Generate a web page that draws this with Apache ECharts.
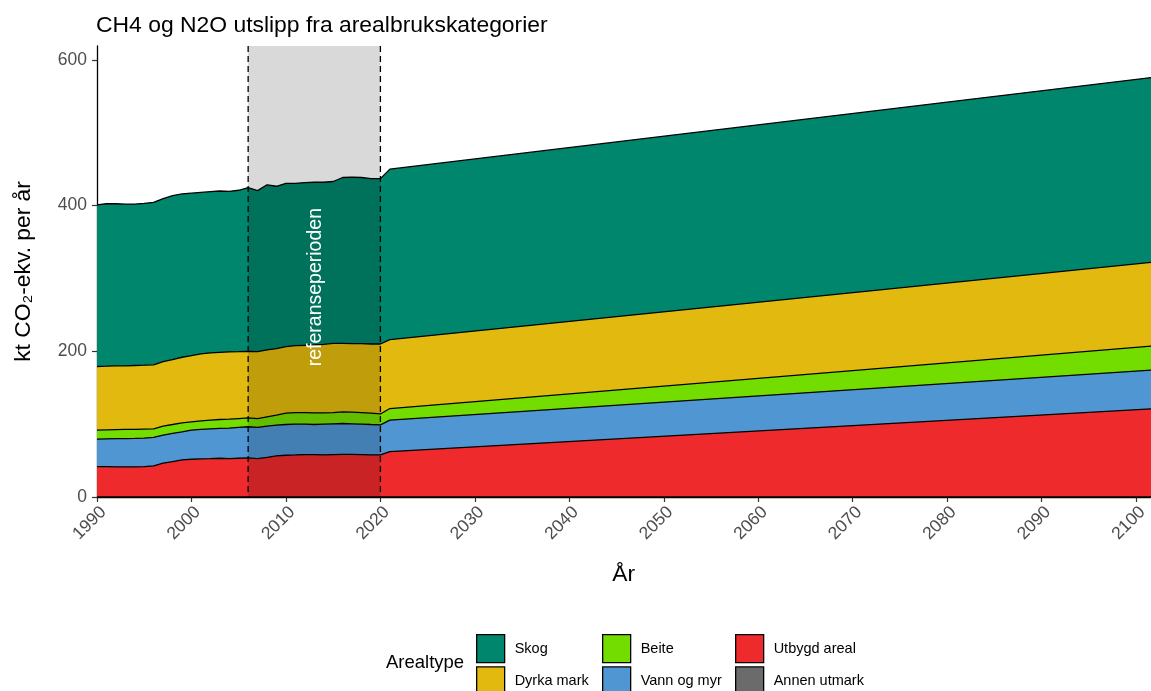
<!DOCTYPE html>
<html>
<head>
<meta charset="utf-8">
<title>CH4 og N2O utslipp fra arealbrukskategorier</title>
<script src="https://cdn.jsdelivr.net/npm/echarts@6/dist/echarts.min.js"></script>
<style>
  html, body { margin: 0; padding: 0; background: #ffffff; }
  #chart { width: 1151px; height: 691px; }
</style>
</head>
<body>
<div id="chart"></div>
<script>
// Years: annual inventory 1990-2021, then the projection end point
const years = [
  1990, 1991, 1992, 1993, 1994, 1995, 1996, 1997, 1998, 1999,
  2000, 2001, 2002, 2003, 2004, 2005, 2006, 2007, 2008, 2009,
  2010, 2011, 2012, 2013, 2014, 2015, 2016, 2017, 2018, 2019,
  2020, 2021, 2102
];

// Emissions per land-use category, kt CO2-ekv. per år
const annenUtmark = [
  0, 0, 0, 0, 0, 0, 0, 0, 0, 0,
  0, 0, 0, 0, 0, 0, 0, 0, 0, 0,
  0, 0, 0, 0, 0, 0, 0, 0, 0, 0,
  0, 0, 0
];
const utbygdAreal = [
  41.8, 41.8, 41.4, 41.4, 41.4, 41.8, 42.7, 46.4, 48.6, 50.9,
  51.8, 52.3, 52.7, 53.2, 52.7, 53.2, 53.6, 52.7, 54.5, 56.4,
  57.3, 57.7, 58.2, 58.2, 57.7, 58.2, 58.6, 58.6, 58.2, 57.7,
  57.7, 62.3, 121.4
];
const vannOgMyr = [
  37.7, 38.0, 38.6, 38.8, 39.1, 39.1, 39.1, 38.6, 38.7, 38.6,
  40.0, 40.4, 40.9, 40.9, 41.8, 42.3, 42.8, 42.8, 42.8, 42.2,
  42.2, 42.3, 41.8, 41.3, 42.3, 42.3, 42.3, 41.9, 41.8, 41.8,
  41.4, 43.2, 53.0
];
const beite = [
  12.3, 12.3, 12.4, 12.5, 12.2, 12.3, 11.8, 12.3, 12.2, 12.3,
  11.4, 11.8, 11.9, 12.3, 12.3, 12.2, 12.2, 12.2, 12.7, 13.7,
  15.5, 15.9, 15.9, 16.0, 15.5, 15.4, 15.9, 15.9, 15.9, 15.5,
  14.9, 15.9, 33.1
];
const dyrkaMark = [
  87.3, 87.4, 87.6, 87.3, 87.8, 87.7, 87.8, 88.6, 89.1, 90.0,
  90.9, 91.9, 92.2, 92.2, 92.3, 91.8, 91.4, 91.8, 91.8, 91.3,
  91.4, 91.8, 92.3, 93.1, 94.0, 95.0, 94.1, 94.1, 94.6, 95.0,
  96.0, 94.5, 115.2
];
const skog = [
  221.9, 223.0, 222.5, 222.0, 221.5, 222.1, 223.1, 223.6, 224.9, 224.2,
  222.9, 221.6, 221.3, 221.4, 220.4, 221.5, 224.5, 221.0, 226.7, 222.9,
  224.1, 222.8, 223.3, 223.4, 222.5, 222.1, 227.6, 228.5, 228.0, 227.0,
  227.0, 234.1, 253.6
];

// Axis ticks and the reference period
const xTicks = [1990, 2000, 2010, 2020, 2030, 2040, 2050, 2060, 2070, 2080, 2090, 2100];
const yTicks = [0, 200, 400, 600];
const referencePeriod = [2006, 2020];

const FONT = '"Liberation Sans", Arial, Helvetica, sans-serif';
const REF_LABEL_LEVEL = 288; // height (in axis units) of the vertical period label

// Stack order: first entry at the bottom
const layers = [
  { name: 'Annen utmark', values: annenUtmark, color: '#6B6B6B' },
  { name: 'Utbygd areal', values: utbygdAreal, color: '#EE2A2C' },
  { name: 'Vann og myr',  values: vannOgMyr,   color: '#4F96D2' },
  { name: 'Beite',        values: beite,       color: '#74DD00' },
  { name: 'Dyrka mark',   values: dyrkaMark,   color: '#E2B90E' },
  { name: 'Skog',         values: skog,        color: '#00866D' }
];
const colorOf = Object.fromEntries(layers.map(l => [l.name, l.color]));

// Running totals: each layer is drawn as an opaque area from 0 up to its
// cumulative top, tallest first, so the visible bands form the stack.
let running = years.map(() => 0);
const stacked = layers.map(l => {
  running = running.map((v, i) => v + l.values[i]);
  return { name: l.name, color: l.color, tops: running.slice() };
});

const areaSeries = stacked.slice().reverse().map(l => ({
  type: 'line',
  name: l.name,
  data: years.map((y, i) => [y, l.tops[i]]),
  symbol: 'none',
  color: l.color,
  lineStyle: { color: '#000000', width: 1.3 },
  areaStyle: { color: l.color, opacity: 1, origin: 'start' },
  emphasis: { disabled: true },
  z: 2
}));

// Shaded reference period with dashed borders and a vertical label
const periodSeries = {
  type: 'custom',
  name: 'referanseperioden',
  data: [referencePeriod],
  encode: { x: [0, 1] },
  silent: true,
  z: 5,
  renderItem: function (params, api) {
    const cs = params.coordSys;
    const x0 = api.coord([api.value(0), 0])[0];
    const x1 = api.coord([api.value(1), 0])[0];
    const top = cs.y;
    const bottom = cs.y + cs.height;
    const mid = api.coord([(api.value(0) + api.value(1)) / 2, REF_LABEL_LEVEL]);
    const dashed = { stroke: '#000000', lineWidth: 1.3, lineDash: [6, 4] };
    return {
      type: 'group',
      children: [
        { type: 'rect', shape: { x: x0, y: top, width: x1 - x0, height: cs.height },
          style: { fill: 'rgba(0,0,0,0.15)' } },
        { type: 'line', shape: { x1: x0, y1: top, x2: x0, y2: bottom }, style: dashed },
        { type: 'line', shape: { x1: x1, y1: top, x2: x1, y2: bottom }, style: dashed },
        { type: 'text', x: mid[0] + 1.5, y: mid[1], rotation: Math.PI / 2,
          style: { text: 'referanseperioden', fill: '#ffffff', fontSize: 19.5,
                   fontFamily: FONT, align: 'center', verticalAlign: 'middle' } }
      ]
    };
  }
};

function legendBlock(names, left) {
  return {
    orient: 'vertical',
    left: left,
    top: 634,
    height: 200,
    padding: 0,
    itemWidth: 28,
    itemHeight: 28,
    itemGap: 3,
    icon: 'rect',
    selectedMode: false,
    textStyle: { fontFamily: FONT, fontSize: 14.5, color: '#000000', padding: [0, 0, 0, 5] },
    data: names.map(n => ({
      name: n,
      icon: 'rect',
      itemStyle: { color: colorOf[n], borderColor: '#000000', borderWidth: 1.3 }
    }))
  };
}

const chart = echarts.init(document.getElementById('chart'), null, { renderer: 'canvas' });
chart.setOption({
  animation: false,
  backgroundColor: '#ffffff',
  textStyle: { fontFamily: FONT },
  title: [
    { text: 'CH4 og N2O utslipp fra arealbrukskategorier', left: 96, top: 14, padding: 0,
      textStyle: { fontFamily: FONT, fontSize: 22.9, fontWeight: 'normal', color: '#000000' } },
    { text: 'Arealtype', left: 386, top: 653, padding: 0,
      textStyle: { fontFamily: FONT, fontSize: 18.5, fontWeight: 'normal', color: '#000000' } }
  ],
  legend: [
    legendBlock(['Skog', 'Dyrka mark'], 476),
    legendBlock(['Beite', 'Vann og myr'], 602),
    legendBlock(['Utbygd areal', 'Annen utmark'], 735)
  ],
  grid: { left: 97, right: 0, top: 46, bottom: 194, containLabel: false },
  xAxis: {
    type: 'value',
    min: 1990,
    max: 2101.5,
    interval: 10,
    name: 'År',
    nameLocation: 'middle',
    nameGap: 66,
    nameTextStyle: { fontFamily: FONT, fontSize: 22.8, color: '#000000' },
    axisLine: { show: true, onZero: false, lineStyle: { color: '#000000', width: 1.3 } },
    axisTick: { show: true, length: 5, customValues: xTicks, lineStyle: { color: '#333333', width: 1.2 } },
    axisLabel: {
      customValues: xTicks,
      rotate: 45,
      margin: 6,
      align: 'right',
      verticalAlign: 'top',
      fontFamily: FONT,
      fontSize: 17.5,
      color: '#4D4D4D',
      formatter: v => (xTicks.indexOf(v) >= 0 ? String(v) : '')
    },
    splitLine: { show: false }
  },
  yAxis: {
    type: 'value',
    min: 0,
    max: 619,
    interval: 200,
    name: 'kt CO₂-ekv. per år',
    nameLocation: 'middle',
    nameGap: 62,
    nameTextStyle: { fontFamily: FONT, fontSize: 22.8, color: '#000000' },
    axisLine: { show: true, lineStyle: { color: '#000000', width: 1.3 } },
    axisTick: { show: true, length: 5, customValues: yTicks, lineStyle: { color: '#333333', width: 1.2 } },
    axisLabel: {
      customValues: yTicks,
      margin: 10,
      fontFamily: FONT,
      fontSize: 17.5,
      color: '#4D4D4D',
      formatter: v => (yTicks.indexOf(v) >= 0 ? String(v) : '')
    },
    splitLine: { show: false }
  },
  series: areaSeries.concat([periodSeries])
});
</script>
</body>
</html>
